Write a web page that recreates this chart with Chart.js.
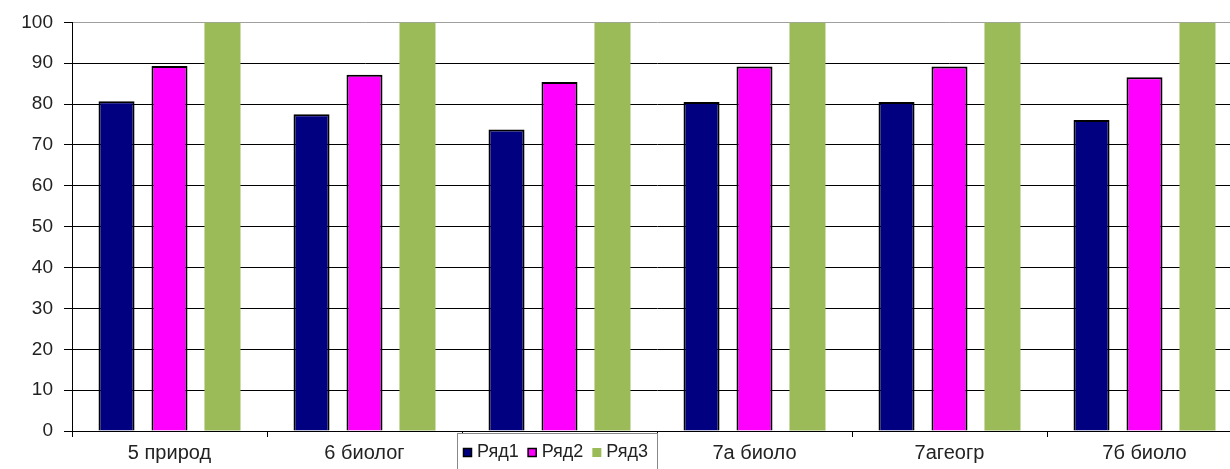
<!DOCTYPE html>
<html><head><meta charset="utf-8">
<script src="https://cdn.jsdelivr.net/npm/chart.js@4"></script>
<style>html,body{margin:0;padding:0;background:#fff;overflow:hidden;}#wrap{width:1230px;height:469px;position:relative;overflow:hidden;}canvas{display:block;}</style>
</head><body><div id="wrap"><canvas id="c" width="1242" height="469"></canvas></div>
<script>
const categories = ["5 природ", "6 биолог", "6 геогр", "7а биоло", "7агеогр", "7б биоло"];
const series1 = [80.7, 77.5, 73.8, 80.5, 80.5, 76.1];
const series2 = [89.3, 87.2, 85.4, 89.2, 89.2, 86.6];
const series3 = [100, 100, 100, 100, 100, 100];
const seriesNames = ["Ряд1", "Ряд2", "Ряд3"];
const yTicks = [0,10,20,30,40,50,60,70,80,90,100];

const FONT = '"Liberation Sans", Arial, sans-serif';

const legendPlugin = {
  id: 'boxLegend',
  afterDraw(chart) {
    const ctx = chart.ctx;
    const x0 = 457, y0 = 433, w = 200, h = 40;
    ctx.save();
    ctx.fillStyle = '#fff';
    ctx.fillRect(x0, y0, w, h);
    ctx.strokeStyle = '#888';
    ctx.lineWidth = 1;
    ctx.strokeRect(x0 + 0.5, y0 + 0.5, w, h);
    ctx.font = '18px ' + FONT;
    ctx.textBaseline = 'middle';
    const cy = 452;
    let x = x0 + 6;
    chart.data.datasets.forEach((ds, i) => {
      ctx.fillStyle = ds.backgroundColor;
      ctx.fillRect(x, cy - 4, 9, 9);
      if (ds.borderWidth > 0) { ctx.strokeStyle = '#000'; ctx.lineWidth = 1.5; ctx.strokeRect(x + 0.5, cy - 3.5, 8, 8); }
      ctx.fillStyle = '#222';
      ctx.fillText(ds.label, x + 14, cy);
      x += 14 + ctx.measureText(ds.label).width + 9;
    });
    ctx.restore();
  }
};

new Chart(document.getElementById('c'), {
  type: 'bar',
  data: {
    labels: categories,
    datasets: [
      { label: seriesNames[0], data: series1, backgroundColor: '#000080', borderColor: '#000', borderWidth: 2, borderSkipped: 'bottom' },
      { label: seriesNames[1], data: series2, backgroundColor: '#ff00ff', borderColor: '#000', borderWidth: 2, borderSkipped: 'bottom' },
      { label: seriesNames[2], data: series3, backgroundColor: '#9bbb59', borderWidth: 0 }
    ]
  },
  options: {
    responsive: false,
    animation: false,
    events: [],
    layout: { padding: { top: 21, right: 0, left: 0, bottom: 0 } },
    plugins: { legend: { display: false }, tooltip: { enabled: false } },
    datasets: { bar: { categoryPercentage: 0.815, barPercentage: 0.68 } },
    scales: {
      x: {
        grid: { offset: true, drawOnChartArea: false, drawTicks: true, tickLength: 6, color: '#000' },
        border: { color: '#000', width: 1 },
        ticks: { color: '#222', font: { family: FONT, size: 20 }, padding: 4, maxRotation: 0 },
        afterFit(s) { s.height = 38; }
      },
      y: {
        min: 0, max: 100,
        afterBuildTicks(s) { s.ticks = yTicks.map(v => ({ value: v })); },
        grid: { color: (c) => c.tick && c.tick.value === 100 ? '#a0a0a0' : '#000', lineWidth: 1, tickLength: 8, drawTicks: true, tickColor: '#000' },
        border: { color: '#000', width: 1 },
        ticks: { color: '#222', font: { family: FONT, size: 19 }, padding: 11 },
        afterFit(s) { s.width = 72; }
      }
    }
  },
  plugins: [legendPlugin]
});
</script></body></html>
